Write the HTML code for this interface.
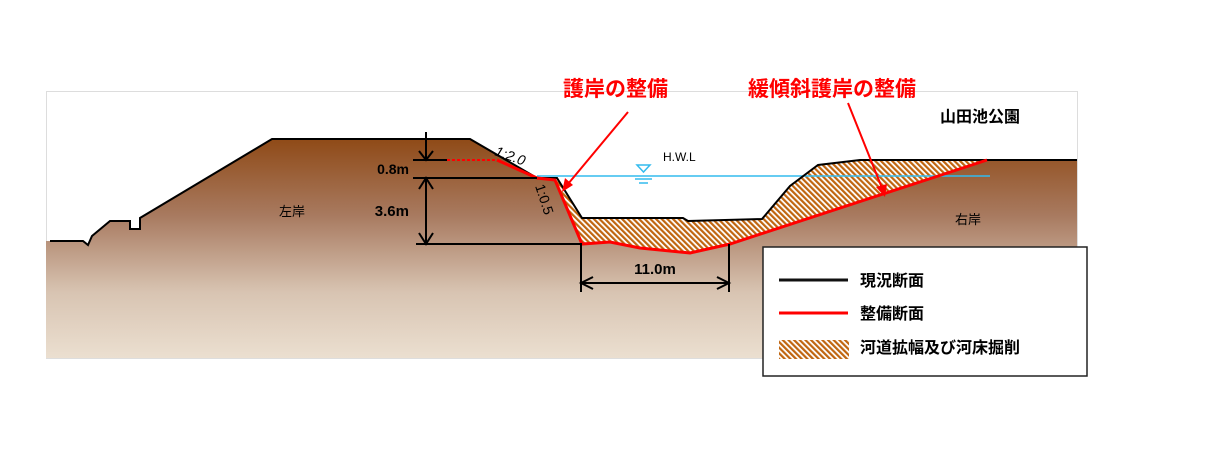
<!DOCTYPE html>
<html><head><meta charset="utf-8"><style>
html,body{margin:0;padding:0;background:#fff;}
svg{display:block;}
text{font-family:"Liberation Sans","Noto Sans CJK JP",sans-serif;}
</style></head><body>
<svg width="1211" height="456" viewBox="0 0 1211 456" xmlns="http://www.w3.org/2000/svg">
<defs>
<linearGradient id="g" x1="0" y1="139" x2="0" y2="358" gradientUnits="userSpaceOnUse">
<stop offset="0" stop-color="#8f4a17"/>
<stop offset="0.35" stop-color="#a87a60"/>
<stop offset="0.7" stop-color="#d8c4b2"/>
<stop offset="1" stop-color="#ebdfd0"/>
</linearGradient>
<pattern id="h" width="4" height="4" patternUnits="userSpaceOnUse" patternTransform="rotate(-45)">
<rect width="4" height="4" fill="#fff"/>
<rect width="2.2" height="4" fill="#c0650f"/>
</pattern>
</defs>
<rect x="46.5" y="91.5" width="1031" height="267" fill="none" stroke="#ddd"/>
<path d="M46,241 L83,241 L88,245 L92,236 L110,221 L130,221 L130,229 L140,229 L140,218 L272,139 L470,139 L537,178 L557,178 L582,218 L683,218 L688,221 L762,219 L790,186 L818,165 L860,160 L1077,160 L1077,358 L46,358 Z" fill="url(#g)"/>
<path d="M557,178 L582,218 L683,218 L688,221 L762,219 L790,186 L818,165 L860,160 L987,160 L730,244 L690,253 L640,248 L610,242 L582,244 L555,180 Z" fill="url(#h)"/>
<line x1="537" y1="176" x2="990" y2="176" stroke="#33bbee" stroke-width="1.5"/>
<path d="M50,241 L83,241 L88,245 L92,236 L110,221 L130,221 L130,229 L140,229 L140,218 L272,139 L470,139 L537,178 L557,178 L582,218 L683,218 L688,221 L762,219 L790,186 L818,165 L860,160 L1077,160" fill="none" stroke="#000" stroke-width="2"/>
<path d="M497,160 L537,178 L555,180 L582,244 L610,242 L640,248 L690,253 L730,244 L987,160" fill="none" stroke="#f00" stroke-width="3"/>
<line x1="447" y1="160" x2="497" y2="160" stroke="#f00" stroke-width="2" stroke-dasharray="3,2"/>
<g stroke="#000" stroke-width="2" fill="none">
<line x1="413" y1="160" x2="447" y2="160"/>
<line x1="413" y1="178" x2="537" y2="178"/>
<line x1="416" y1="244" x2="582" y2="244"/>
<line x1="426" y1="132" x2="426" y2="160"/>
<path d="M419,151 L426,160 L433,151"/>
<line x1="426" y1="178" x2="426" y2="244"/>
<path d="M419,189 L426,178 L433,189 M419,233 L426,244 L433,233"/>
<line x1="581" y1="244" x2="581" y2="292"/>
<line x1="729" y1="244" x2="729" y2="292"/>
<line x1="581" y1="283" x2="729" y2="283"/>
<path d="M593,277 L581,283 L593,289 M717,277 L729,283 L717,289"/>
</g>
<text x="409" y="174" font-size="14" font-weight="bold" text-anchor="end" font-family="Liberation Mono,monospace">0.8m</text>
<text x="409" y="216" font-size="15" font-weight="bold" text-anchor="end" font-family="Liberation Mono,monospace">3.6m</text>
<text x="655" y="274" font-size="15" font-weight="bold" text-anchor="middle" font-family="Liberation Mono,monospace">11.0m</text>
<text x="494" y="155" font-size="14" font-style="italic" transform="rotate(20 494 155)">1:2.0</text>
<text x="535" y="186" font-size="14" transform="rotate(72 535 186)">1:0.5</text>
<path d="M637,165 L650,165 L643.5,172 Z" fill="none" stroke="#33bbee" stroke-width="1.5"/>
<line x1="635" y1="179" x2="652" y2="179" stroke="#33bbee" stroke-width="1.5"/>
<line x1="639" y1="183" x2="648" y2="183" stroke="#33bbee" stroke-width="1.5"/>
<text x="663" y="161" font-size="12">H.W.L</text>
<text x="279" y="216" font-size="13">左岸</text>
<text x="955" y="224" font-size="13">右岸</text>
<text x="940" y="122" font-size="16" font-weight="bold">山田池公園</text>
<text x="563" y="96" font-size="21" font-weight="bold" fill="#f00">護岸の整備</text>
<text x="748" y="96" font-size="21" font-weight="bold" fill="#f00">緩傾斜護岸の整備</text>
<line x1="628" y1="112" x2="568" y2="184" stroke="#f00" stroke-width="2"/>
<path d="M562,192 L565,178 L573,185 Z" fill="#f00"/>
<line x1="848" y1="103" x2="882" y2="188" stroke="#f00" stroke-width="2"/>
<path d="M885,197 L876,187 L887,184 Z" fill="#f00"/>
<rect x="763" y="247" width="324" height="129" fill="#fff" stroke="#222" stroke-width="1.5"/>
<line x1="779" y1="280" x2="848" y2="280" stroke="#111" stroke-width="3"/>
<line x1="779" y1="313" x2="848" y2="313" stroke="#f00" stroke-width="3"/>
<rect x="779" y="340" width="70" height="19" fill="url(#h)"/>
<text x="860" y="286" font-size="16" font-weight="bold">現況断面</text>
<text x="860" y="319" font-size="16" font-weight="bold">整備断面</text>
<text x="860" y="353" font-size="16" font-weight="bold">河道拡幅及び河床掘削</text>
</svg>
</body></html>
